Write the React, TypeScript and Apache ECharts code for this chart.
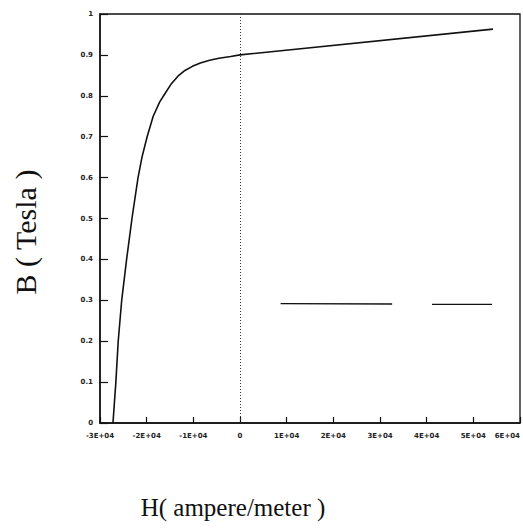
import React, { useEffect, useRef } from "react";
import * as echarts from "echarts";

// B-H curve (H in A/m, B in Tesla)
const curveH = [-27220, -26600, -26100, -25350, -24300, -23150, -21850, -21000, -19900, -18600, -17200, -16100, -14800, -13300, -11800, -10200, -8500, -6500, -4500, -2000, 0, 54200];
const curveB = [0, 0.1, 0.2, 0.3, 0.4, 0.5, 0.6, 0.65, 0.7, 0.75, 0.785, 0.805, 0.828, 0.848, 0.862, 0.872, 0.88, 0.887, 0.892, 0.896, 0.9, 0.963];

// horizontal reference line (with a gap)
const refH = [8700, 32600, 36000, 41150, 54000];
const refB: (number | string)[] = [0.292, 0.291, "-", 0.29, 0.29];

const xTicks = [-30000, -20000, -10000, 0, 10000, 20000, 30000, 40000, 50000, 60000];
const yTicks = [0, 0.1, 0.2, 0.3, 0.4, 0.5, 0.6, 0.7, 0.8, 0.9, 1];

export default function App() {
  const ref = useRef<HTMLDivElement>(null);
  useEffect(() => {
    document.body.style.margin = "0";
    const chart = echarts.init(ref.current!, null, { renderer: "svg" });
    const tickFont = { fontSize: 7, fontWeight: "bold" as const, color: "#222", fontFamily: "DejaVu Sans" };
    chart.setOption({
      animation: false,
      backgroundColor: "#fff",
      grid: {
        left: 100, right: 3, top: 14, bottom: 108,
        outerBoundsMode: "none",
        containLabel: false,
        show: true, borderColor: "#111", borderWidth: 1.3, backgroundColor: "transparent",
      },
      xAxis: {
        type: "value",
        min: xTicks[0],
        max: xTicks[xTicks.length - 1],
        interval: 10000,
        axisLine: { show: true, onZero: false, lineStyle: { color: "#111", width: 1.5 } },
        axisTick: { show: true, inside: true, length: 6, lineStyle: { color: "#111", width: 1.2 } },
        splitLine: { show: false },
        axisLabel: {
          ...tickFont,
          margin: 9,
          alignMaxLabel: "right",
          formatter: (v: number) => (v === 0 ? "0" : v / 10000 + "E+04"),
        },
      },
      yAxis: {
        type: "value",
        min: yTicks[0],
        max: yTicks[yTicks.length - 1],
        interval: 0.1,
        axisLine: { show: true, onZero: false, lineStyle: { color: "#111", width: 1.5 } },
        axisTick: { show: true, inside: true, length: 8, lineStyle: { color: "#111", width: 1.2 } },
        splitLine: { show: false },
        axisLabel: {
          ...tickFont,
          margin: 7,
          formatter: (v: number) => (v === 0 ? "0" : v === 1 ? "1" : v.toFixed(1)),
        },
      },
      series: [
        {
          type: "line",
          data: curveH.map((h, i) => [h, curveB[i]]),
          smooth: false,
          showSymbol: false,
          lineStyle: { color: "#111", width: 1.6, join: "round" },
          markLine: {
            silent: true,
            symbol: "none",
            label: { show: false },
            lineStyle: { color: "#333", type: [1, 2], width: 1 },
            data: [{ xAxis: 0 }],
          },
        },
        {
          type: "line",
          data: refH.map((h, i) => [h, refB[i]]),
          showSymbol: false,
          connectNulls: false,
          lineStyle: { color: "#111", width: 1.3 },
        },
      ],
      graphic: [
        {
          type: "text",
          x: 25,
          y: 232,
          rotation: Math.PI / 2,
          style: { text: "B ( Tesla )", fontSize: 30, fontFamily: "Liberation Serif", fill: "#111", align: "center", verticalAlign: "middle" },
        },
        {
          type: "text",
          x: 233,
          y: 507,
          style: { text: "H( ampere/meter )", fontSize: 25, fontFamily: "Liberation Serif", fill: "#111", align: "center", verticalAlign: "middle" },
        },
      ],
    });
    return () => chart.dispose();
  }, []);
  return <div ref={ref} style={{ width: 523, height: 531 }} />;
}
